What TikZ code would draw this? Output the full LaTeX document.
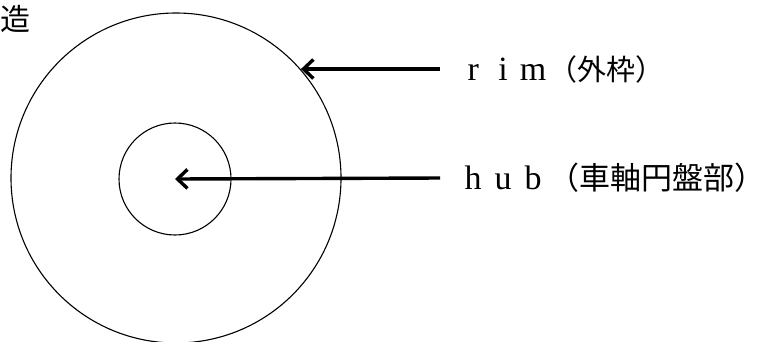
\documentclass[tikz,border=0pt]{standalone}
\usepackage{fontspec}
\setmainfont{Liberation Serif}
\newfontfamily\jpfont{Noto Sans CJK JP}
\usetikzlibrary{arrows.meta}
\newcommand{\fw}[1]{\makebox[30pt]{#1}}
\begin{document}
\begin{tikzpicture}[x=1pt,y=-1pt,
    ring/.style={circle,draw,line width=1.1pt,inner sep=0pt},
    lbl/.style={anchor=west,inner ysep=0pt,inner xsep=18pt,font=\fontsize{34}{34}\selectfont},
    arr/.style={line width=3.4pt,-{Straight Barb[length=10pt,width=19pt,line width=3.4pt]}}]
  \useasboundingbox (0,0) rectangle (770,341);
  \node[ring,minimum size=330pt] (rim) at (176,178) {};
  \node[ring,minimum size=112pt] (hub) at (175,179) {};
  \node[inner sep=0pt,font=\jpfont\fontsize{30}{30}\selectfont] (title) at (15,19) {造};
  \node[lbl] (rimlbl) at (440,69) {\fw{r}\fw{i}\fw{m}{\jpfont\fontsize{29}{29}\selectfont（外枠）}};
  \node[lbl] (hublbl) at (440,178) {\fw{h}\fw{u}\fw{b}{\jpfont\fontsize{31}{31}\selectfont（車軸円盤部）}};
  \draw[arr] (rimlbl.west) -- (rimlbl.west -| rim.41);
  \draw[arr] (hublbl.west) -- (hub.center);
\end{tikzpicture}
\end{document}
